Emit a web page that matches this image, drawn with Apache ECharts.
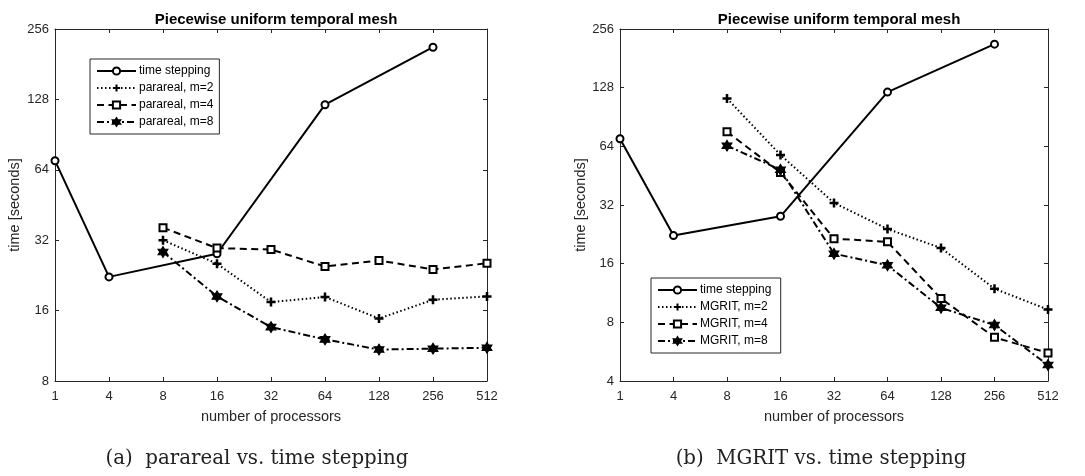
<!DOCTYPE html>
<html>
<head>
<meta charset="utf-8">
<script src="https://cdn.jsdelivr.net/npm/echarts@6/dist/echarts.min.js"></script>
<style>
html,body{margin:0;padding:0;background:#fff;}
#c{width:1085px;height:476px;}
</style>
</head>
<body>
<div id="c"></div>
<script>
// ---- data ----
const processors = ['1','4','8','16','32','64','128','256','512'];
const leftYTicks = [8,16,32,64,128,256];
const rightYTicks = [4,8,16,32,64,128,256];

const timeStepping = [70, 22.3, null, 28.0, null, 121.5, null, 214, null];

const parareal2 = [null, null, 32.0, 25.4, 17.4, 18.3, 14.8, 17.8, 18.4];
const parareal4 = [null, null, 36.2, 29.6, 29.2, 24.7, 26.2, 24.0, 25.5];
const parareal8 = [null, null, 28.5, 18.4, 13.6, 12.05, 10.9, 11.0, 11.1];

const mgrit2 = [null, null, 112.7, 57.8, 32.8, 24.1, 19.25, 11.9, 9.3];
const mgrit4 = [null, null, 76, 47, 21.5, 20.7, 10.6, 6.7, 5.57];
const mgrit8 = [null, null, 64.5, 48.5, 18.0, 15.7, 9.5, 7.75, 4.83];

const titleText = 'Piecewise uniform temporal mesh';
const captionA = '(a)  parareal vs. time stepping';
const captionB = '(b)  MGRIT vs. time stepping';

// ---- styles ----
const AX = '#262626';
const FONT = '"Liberation Sans", Arial, sans-serif';
const SERIF = '"DejaVu Serif", serif';
const HEX = 'path://M50 0 L64.43 25 L93.3 25 L78.87 50 L93.3 75 L64.43 75 L50 100 L35.57 75 L6.7 75 L21.13 50 L6.7 25 L35.57 25 Z';
const PLUS = 'path://M3.6 0 H6.4 V3.6 H10 V6.4 H6.4 V10 H3.6 V6.4 H0 V3.6 H3.6 Z';

const styles = {
  ts:  {symbol:'emptyCircle', symbolSize:7, type:'solid', itemStyle:{color:'#000', borderColor:'#000', borderWidth:2}},
  m2:  {symbol:PLUS, symbolSize:9, type:[1.5,2.5], itemStyle:{color:'#000', borderColor:'#000', borderWidth:0}},
  m4:  {symbol:'emptyRect', symbolSize:7, type:[7,4.5], itemStyle:{color:'#000', borderColor:'#000', borderWidth:2}},
  m8:  {symbol:HEX, symbolSize:[10,11], type:[7,3,2,3], itemStyle:{color:'#000', borderColor:'#000', borderWidth:1}}
};

function mkSeries(name, data, st, gi) {
  return {
    name: name, type:'line', data: data,
    xAxisIndex: gi*2, yAxisIndex: gi*2,
    connectNulls: true,
    symbol: st.symbol, symbolSize: st.symbolSize, showAllSymbol:true,
    lineStyle: {color:'#000', width:2, type: st.type},
    itemStyle: st.itemStyle,
    emphasis:{disabled:true},
    animation:false, z: 3
  };
}

function xAxes(gi) {
  return [
    {type:'category', gridIndex:gi, data:processors, boundaryGap:false, position:'bottom',
     axisLine:{lineStyle:{color:AX,width:1}}, axisTick:{inside:true,length:4,lineStyle:{color:AX}},
     axisLabel:{color:AX, fontFamily:FONT, fontSize:13, margin:9},
     name:'number of processors', nameLocation:'middle', nameGap:28,
     nameTextStyle:{color:AX, fontFamily:FONT, fontSize:14.5}},
    {type:'category', gridIndex:gi, data:processors, boundaryGap:false, position:'top',
     axisLine:{lineStyle:{color:AX,width:1}}, axisTick:{inside:true,length:4,lineStyle:{color:AX}},
     axisLabel:{show:false}}
  ];
}
function yAxes(gi, min, max, gap) {
  return [
    {type:'log', logBase:2, gridIndex:gi, min:min, max:max, interval:1, position:'left',
     axisLine:{show:true, lineStyle:{color:AX,width:1}}, axisTick:{show:true, inside:true,length:4,lineStyle:{color:AX}},
     splitLine:{show:false},
     axisLabel:{color:AX, fontFamily:FONT, fontSize:13, margin:6, formatter:v=>String(Math.round(v))},
     name:'time [seconds]', nameLocation:'middle', nameGap:gap, nameRotate:90,
     nameTextStyle:{color:AX, fontFamily:FONT, fontSize:14.5}},
    {type:'log', logBase:2, gridIndex:gi, min:min, max:max, interval:1, position:'right',
     axisLine:{show:true, lineStyle:{color:AX,width:1}}, axisTick:{show:true, inside:true,length:4,lineStyle:{color:AX}},
     splitLine:{show:false}, axisLabel:{show:false}}
  ];
}

const chart = echarts.init(document.getElementById('c'), null, {renderer:'canvas'});
const legendCommon = {
  orient:'vertical', itemWidth:39, itemHeight:9, itemGap:5,
  borderColor:AX, borderWidth:1, backgroundColor:'#fff',
  textStyle:{color:'#000', fontFamily:FONT, fontSize:12, padding:[0,0,0,-2]},
  selectedMode:false, inactiveColor:'#000'
};
chart.setOption({
  animation:false,
  backgroundColor:'#fff',
  title:[
    {text:titleText, left:271, top:7, textAlign:'center', textStyle:{fontFamily:FONT, fontSize:15, fontWeight:'bold', color:'#000'}},
    {text:titleText, left:834, top:7, textAlign:'center', textStyle:{fontFamily:FONT, fontSize:15, fontWeight:'bold', color:'#000'}},
    {text:captionA, left:252, top:444, textAlign:'center', textStyle:{fontFamily:SERIF, fontSize:19.8, fontWeight:'normal', color:'#222'}},
    {text:captionB, left:816, top:444, textAlign:'center', textStyle:{fontFamily:SERIF, fontSize:19.8, fontWeight:'normal', color:'#222'}}
  ],
  grid:[
    {left:55, right:598, top:29, bottom:95, containLabel:false},
    {left:620, right:37, top:29, bottom:95, containLabel:false}
  ],
  xAxis:[...xAxes(0), ...xAxes(1)],
  yAxis:[...yAxes(0, 8, 256, 33), ...yAxes(1, 4, 256, 31)],
  legend:[
    Object.assign({}, legendCommon, {left:90, top:59, padding:[6,6,6,6],
      data:['time stepping','parareal, m=2','parareal, m=4','parareal, m=8']}),
    Object.assign({}, legendCommon, {left:651, top:278, padding:[6,6,6,6],
      data:['time stepping ','MGRIT, m=2','MGRIT, m=4','MGRIT, m=8']})
  ],
  series:[
    mkSeries('time stepping', timeStepping, styles.ts, 0),
    mkSeries('parareal, m=2', parareal2, styles.m2, 0),
    mkSeries('parareal, m=4', parareal4, styles.m4, 0),
    mkSeries('parareal, m=8', parareal8, styles.m8, 0),
    mkSeries('time stepping ', timeStepping, styles.ts, 1),
    mkSeries('MGRIT, m=2', mgrit2, styles.m2, 1),
    mkSeries('MGRIT, m=4', mgrit4, styles.m4, 1),
    mkSeries('MGRIT, m=8', mgrit8, styles.m8, 1)
  ]
});
</script>
</body>
</html>
